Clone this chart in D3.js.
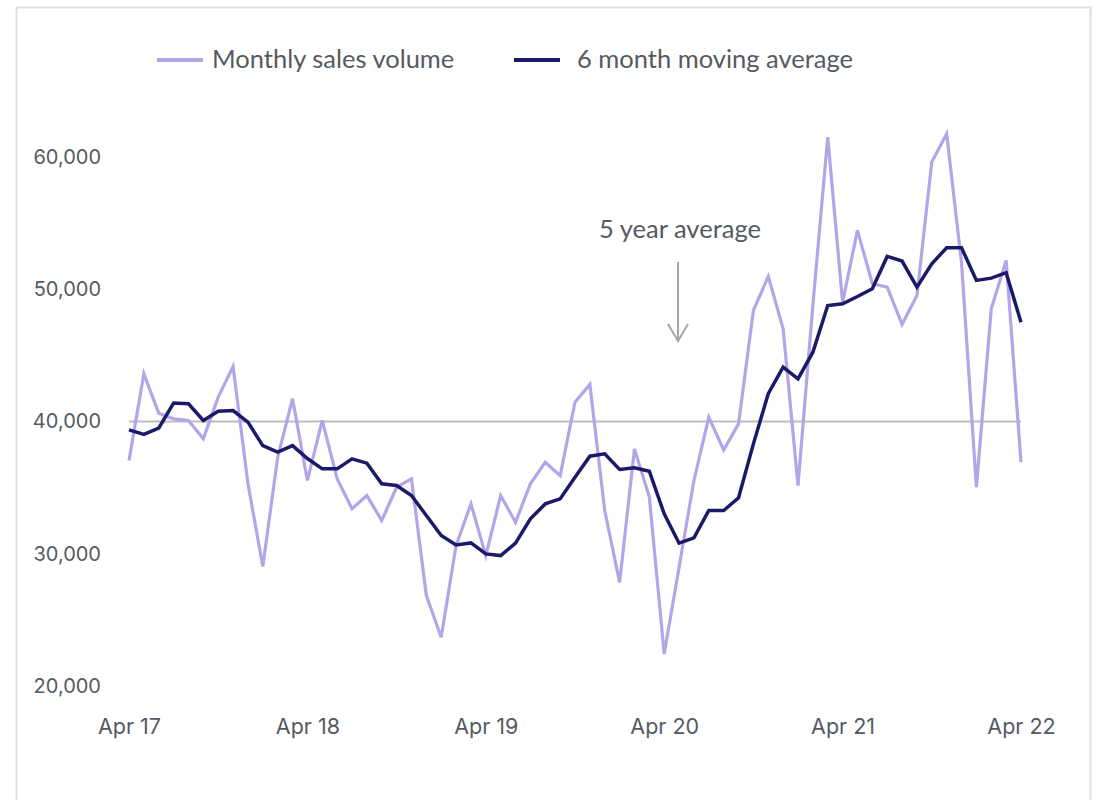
<!DOCTYPE html>
<html>
<head>
<meta charset="utf-8">
<script src="https://cdn.jsdelivr.net/npm/d3@7"></script>
<style>
  body { margin: 0; background: #fff; }
  svg { display: block; }
</style>
</head>
<body>
<div id="chart"></div>
<script>
  // monthly values, Apr 2017 .. Apr 2022
  var sales = [
    37050, 43600, 40630, 40200, 40080, 38690, 41840, 44160, 35310, 29030, 37280, 41720,
    35540, 40080, 35670, 33400, 34400, 32510, 35030, 35670, 26840, 23680, 30620, 33770,
    29860, 34400, 32380, 35290, 36920, 35910, 41460, 42800, 33270, 27840, 37930, 34280,
    22430, 28980, 35540, 40330, 37850, 39820, 48400, 50970, 47010, 35160, 48800, 61500,
    49020, 54450, 50420, 50160, 47340, 49530, 59620, 61760, 52000, 35030, 48520, 52180,
    36920
  ];
  var movingAvg = [
    39370, 39020, 39500, 41390, 41340, 40080, 40780, 40830, 39950, 38180, 37680, 38180,
    37200, 36420, 36420, 37180, 36850, 35290, 35160, 34400, 32890, 31380, 30670, 30820,
    29990, 29860, 30800, 32640, 33770, 34150, 35790, 37380, 37560, 36370, 36500, 36240,
    33020, 30800, 31200, 33270, 33270, 34230, 38310, 42100, 44110, 43230, 45240, 48770,
    48900, 49450, 50040, 52480, 52130, 50160, 51930, 53140, 53140, 50670, 50840, 51250,
    47510
  ];
  var tickLabels = ["Apr 17", "Apr 18", "Apr 19", "Apr 20", "Apr 21", "Apr 22"];
  var yTicks = [20000, 30000, 40000, 50000, 60000];
  var fiveYearAvg = 40000;
  var seriesNames = ["Monthly sales volume", "6 month moving average"];

  var width = 1098, height = 800;
  var lightPurple = "#b3a6e8", navy = "#1b1a68";

  var svg = d3.select("#chart").append("svg")
    .attr("width", width).attr("height", height);

  // frame
  svg.append("rect")
    .attr("x", 16.5).attr("y", 7.5)
    .attr("width", 1074).attr("height", 820)
    .attr("fill", "none").attr("stroke", "#e0e0e0").attr("stroke-width", 2);

  var x = d3.scaleLinear().domain([0, sales.length - 1]).range([129, 1021]);
  var y = d3.scaleLinear().domain([20000, 60000]).range([686, 157]);

  // y axis labels
  var yAxis = d3.axisLeft(y).tickValues(yTicks).tickSize(0).tickPadding(0)
    .tickFormat(d3.format(","));
  svg.append("g").attr("transform", "translate(101,0)").call(yAxis)
    .call(g => g.select(".domain").remove())
    .selectAll("text")
      .attr("font-family", "Inter, 'DejaVu Sans', sans-serif")
      .attr("font-size", 20).attr("fill", "#555a60");

  // x axis labels
  var xAxis = d3.axisBottom(x).tickValues(d3.range(0, sales.length, 12))
    .tickSize(0).tickPadding(0).tickFormat((d, i) => tickLabels[i]);
  svg.append("g").attr("transform", "translate(0,719)").call(xAxis)
    .call(g => g.select(".domain").remove())
    .selectAll("text")
      .attr("font-family", "Inter, 'DejaVu Sans', sans-serif")
      .attr("font-size", 21.5).attr("fill", "#555a60");

  // 5 year average line
  svg.append("line")
    .attr("x1", x(0)).attr("x2", x(sales.length - 1))
    .attr("y1", y(fiveYearAvg)).attr("y2", y(fiveYearAvg))
    .attr("stroke", "#bdbdbd").attr("stroke-width", 2);

  var line = d3.line().x((d, i) => x(i)).y(d => y(d));

  svg.append("path").datum(sales)
    .attr("d", line).attr("fill", "none")
    .attr("stroke", lightPurple).attr("stroke-width", 3.2)
    .attr("stroke-linejoin", "miter");

  svg.append("path").datum(movingAvg)
    .attr("d", line).attr("fill", "none")
    .attr("stroke", navy).attr("stroke-width", 3.5)
    .attr("stroke-linejoin", "miter");

  // annotation
  svg.append("text")
    .attr("x", 680).attr("y", 238).attr("text-anchor", "middle")
    .attr("font-family", "Lato, 'Open Sans', sans-serif").attr("font-size", 25.5)
    .attr("fill", "#555a60").text("5 year average");
  svg.append("line")
    .attr("x1", 678).attr("x2", 678).attr("y1", 262).attr("y2", 342)
    .attr("stroke", "#a6a6a6").attr("stroke-width", 2);
  svg.append("path")
    .attr("d", "M668,324 L678,341 L688,324")
    .attr("fill", "none").attr("stroke", "#a6a6a6").attr("stroke-width", 2);

  // legend
  var legend = svg.append("g");
  var items = [
    { name: seriesNames[0], color: lightPurple, x: 157, tx: 212 },
    { name: seriesNames[1], color: navy, x: 514, tx: 577 }
  ];
  items.forEach(function (d) {
    legend.append("line")
      .attr("x1", d.x).attr("x2", d.x + 46).attr("y1", 60).attr("y2", 60)
      .attr("stroke", d.color).attr("stroke-width", 4);
    legend.append("text")
      .attr("x", d.tx).attr("y", 68)
      .attr("font-family", "Lato, 'Open Sans', sans-serif").attr("font-size", 25.5)
      .attr("fill", "#555a60").text(d.name);
  });
</script>
</body>
</html>
